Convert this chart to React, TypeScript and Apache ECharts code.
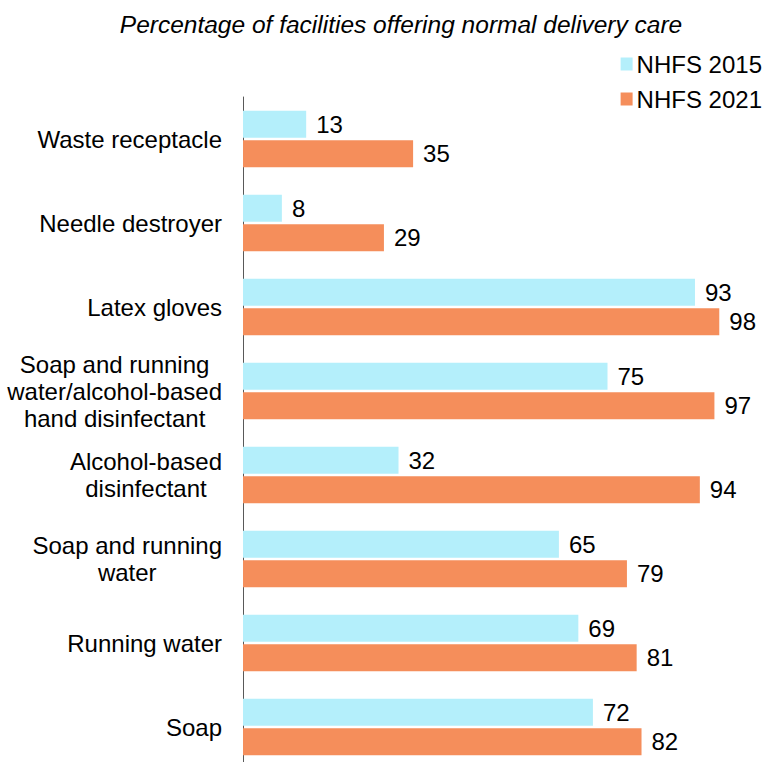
import React, { useEffect, useRef } from "react";
import * as echarts from "echarts";

const categories = [
  "Waste receptacle",
  "Needle destroyer",
  "Latex gloves",
  "Soap and running\nwater/alcohol-based\nhand disinfectant",
  "Alcohol-based\ndisinfectant",
  "Soap and running\nwater",
  "Running water",
  "Soap",
];
const nhfs2015 = [13, 8, 93, 75, 32, 65, 69, 72];
const nhfs2021 = [35, 29, 98, 97, 94, 79, 81, 82];
const seriesNames = ["NHFS 2015", "NHFS 2021"];
const titleText = "Percentage of facilities offering normal delivery care";

const FONT = "'Liberation Sans', Arial, sans-serif";

export default function App() {
  const ref = useRef<HTMLDivElement>(null);
  useEffect(() => {
    if (!ref.current) return;
    const chart = echarts.init(ref.current, null, { renderer: "svg" });
    const labelStyle = {
      show: true,
      position: "right" as const,
      distance: 10,
      fontSize: 24,
      color: "#000",
      fontFamily: FONT,
    };
    chart.setOption({
      animation: false,
      backgroundColor: "#fff",
      title: {
        text: titleText,
        left: 396,
        top: 7,
        textAlign: "center",
        textStyle: {
          fontSize: 24.5,
          fontStyle: "italic",
          fontWeight: "normal",
          color: "#000",
          fontFamily: FONT,
        },
      },
      legend: {
        orient: "vertical",
        right: 0,
        top: 47,
        itemWidth: 12,
        itemHeight: 13,
        itemGap: 11,
        icon: "rect",
        textStyle: { fontSize: 24, color: "#000", fontFamily: FONT, padding: [0, 0, 0, -1] },
        data: seriesNames,
      },
      grid: {
        left: 243,
        top: 97,
        width: 486,
        height: 672,
        containLabel: false,
        outerBoundsMode: "none",
      },
      xAxis: {
        type: "value",
        min: 0,
        max: 100,
        show: false,
      },
      yAxis: {
        type: "category",
        data: categories,
        inverse: true,
        axisLine: { show: true, lineStyle: { color: "#595959", width: 1 } },
        axisTick: { show: false },
        axisLabel: {
          margin: 21,
          fontSize: 24,
          color: "#000",
          fontFamily: FONT,
          lineHeight: 27,
          formatter: (v: string) =>
            v
              .split("\n")
              .map((l) => `{c|${l}}`)
              .join("\n"),
          rich: {
            c: { align: "center", fontSize: 24, fontFamily: FONT, color: "#000", lineHeight: 27 },
          },
        },
      },
      series: [
        {
          name: seriesNames[0],
          type: "bar",
          data: nhfs2015,
          barWidth: 27,
          barGap: "10%",
          itemStyle: { color: "#b4effb" },
          label: labelStyle,
        },
        {
          name: seriesNames[1],
          type: "bar",
          data: nhfs2021,
          barWidth: 27,
          barGap: "10%",
          itemStyle: { color: "#f58e5b" },
          label: labelStyle,
        },
      ],
    });
    return () => chart.dispose();
  }, []);
  return (
    <div
      ref={ref}
      style={{ position: "absolute", left: 0, top: 0, width: 767, height: 762 }}
    />
  );
}
